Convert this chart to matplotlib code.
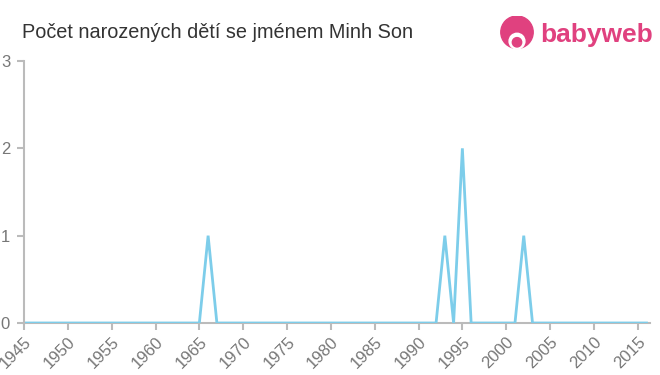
import matplotlib
matplotlib.use("Agg")
import matplotlib.pyplot as plt
from matplotlib.patches import Circle

years = list(range(1945, 2017))
counts = [0] * len(years)
peaks = {1966: 1, 1993: 1, 1995: 2, 2002: 1}
for y, v in peaks.items():
    counts[years.index(y)] = v

xticks = list(range(1945, 2016, 5))
yticks = [0, 1, 2, 3]
title = "Počet narozených dětí se jménem Minh Son"

plt.rcParams['font.family'] = ['Liberation Sans', 'DejaVu Sans']
fig = plt.figure(figsize=(6.6, 3.75), dpi=100)
ax = fig.add_axes([24/660, 1-323/375, (650-24)/660, (323-61)/375])
ax.plot(years, counts, color='#7dcdea', lw=2, solid_joinstyle='miter')
ax.set_xlim(1945, 2016.4)
ax.set_ylim(0, 3)
ax.set_xticks(xticks)
ax.set_xticklabels([str(x) for x in xticks], rotation=45, ha='right', rotation_mode='anchor')
ax.set_yticks(yticks)
for s in ['top', 'right']:
    ax.spines[s].set_visible(False)
for s in ['left', 'bottom']:
    ax.spines[s].set_color('#bbbbbb')
    ax.spines[s].set_linewidth(1.5)
ax.tick_params(axis='both', colors='#bbbbbb', labelcolor='#777777', labelsize=12, length=5, width=1.5)
ax.tick_params(axis='y', pad=5)
ax.tick_params(axis='x', pad=3)
ax.spines['bottom'].set_zorder(0)

fig.text(22/660, 1-32/375, title, fontsize=14.3, color='#333333', va='center', ha='left')
# logo
fig.text(540/660, 1-35/375, "babyweb", fontsize=19, color='#e0417f', va='center', ha='left', fontweight='bold')
logo_ax = fig.add_axes([499/660, 1-52/375, 36/660, 36/375])
logo_ax.set_xlim(0, 1); logo_ax.set_ylim(0, 1); logo_ax.axis('off')
logo_ax.add_patch(Circle((0.5, 0.55), 0.45, color='#e0417f'))
logo_ax.add_patch(Circle((0.5, 0.3), 0.22, color='white'))
logo_ax.add_patch(Circle((0.5, 0.27), 0.13, color='#e0417f'))

fig.savefig('out.png', dpi=100)
